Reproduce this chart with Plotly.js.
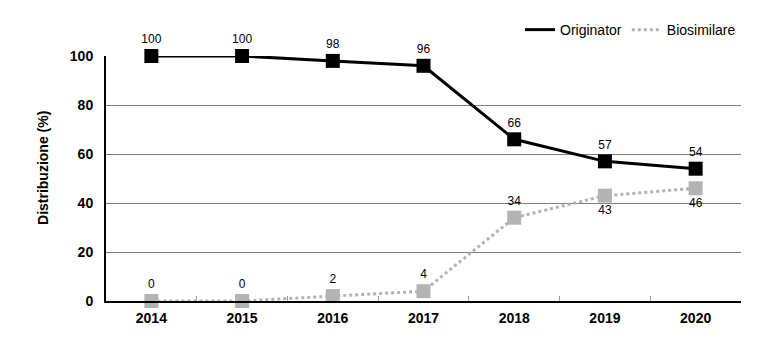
<!DOCTYPE html>
<html><head><meta charset="utf-8">
<script src="https://cdn.plot.ly/plotly-3.0.1.min.js"></script>
<style>html,body{margin:0;padding:0;background:#fff}#c{width:774px;height:354px}</style>
</head><body><div id="c"></div>
<script>
const years = ['2014','2015','2016','2017','2018','2019','2020'];
const originator = [100,100,98,96,66,57,54];
const biosimilare = [0,0,2,4,34,43,46];
const bioLabelPos = ['top center','top center','top center','top center','top center','bottom center','bottom center'];
const yTicks = [0,20,40,60,80,100];
const seriesNames = ['Originator','Biosimilare'];
const yTitle = 'Distribuzione (%)';

const font = 'Liberation Sans, Arial, Helvetica, sans-serif';
const black = '#000000', grey = '#b3b3b3';
const traces = [
  {x: years, y: originator, name: seriesNames[0], type: 'scatter', mode: 'lines+markers+text', showlegend: false,
   line: {color: black, width: 3}, marker: {symbol: 'square', size: 14, color: black},
   text: originator.map(String), textposition: 'top center',
   textfont: {family: font, size: 12, color: '#000'}, cliponaxis: false},
  {x: years, y: biosimilare, name: seriesNames[1], type: 'scatter', mode: 'lines+markers+text', showlegend: false,
   line: {color: grey, width: 3, dash: 'dot'}, marker: {symbol: 'square', size: 14, color: grey},
   text: biosimilare.map(String), textposition: bioLabelPos,
   textfont: {family: font, size: 12, color: '#000'}, cliponaxis: false},
  {x: [null], y: [null], name: seriesNames[0], type: 'scatter', mode: 'lines', showlegend: true,
   line: {color: black, width: 3}},
  {x: [null], y: [null], name: seriesNames[1], type: 'scatter', mode: 'lines', showlegend: true,
   line: {color: grey, width: 3, dash: 'dot'}}
];
const layout = {
  width: 774, height: 354,
  margin: {l: 106, r: 33, t: 56, b: 53},
  paper_bgcolor: '#fff', plot_bgcolor: '#fff',
  font: {family: font, color: '#000'},
  showlegend: true,
  legend: {orientation: 'h', x: 1.0, xanchor: 'right', y: 1.106, yanchor: 'middle',
           font: {family: font, size: 14, color: '#000'}, itemwidth: 30, traceorder: 'normal'},
  xaxis: {type: 'category', range: [-0.5, years.length - 0.5], showgrid: false, showline: true, linecolor: '#000', linewidth: 2,
          ticks: 'inside', tickson: 'boundaries', ticklen: 5, tickcolor: '#999', tickwidth: 1,
          tickfont: {family: font, size: 14, color: '#000', weight: 'bold'}, ticklabelstandoff: 3,
          zeroline: false, fixedrange: true, automargin: false},
  yaxis: {range: [0, 100], tickvals: yTicks, ticktext: yTicks.map(String), showgrid: true,
          gridcolor: '#808080', gridwidth: 1, showline: true, linecolor: '#000', linewidth: 2,
          zeroline: false, ticks: '', ticklabelstandoff: 8, automargin: false,
          tickfont: {family: font, size: 14, color: '#000', weight: 'bold'}},
  annotations: [{text: yTitle, textangle: -90, xref: 'paper', yref: 'paper', x: 0, y: 0.543,
                 xanchor: 'center', yanchor: 'middle', xshift: -63, showarrow: false,
                 font: {family: font, size: 14, color: '#000', weight: 'bold'}}]
};
Plotly.newPlot('c', traces, layout, {displayModeBar: false, staticPlot: true});
</script></body></html>
